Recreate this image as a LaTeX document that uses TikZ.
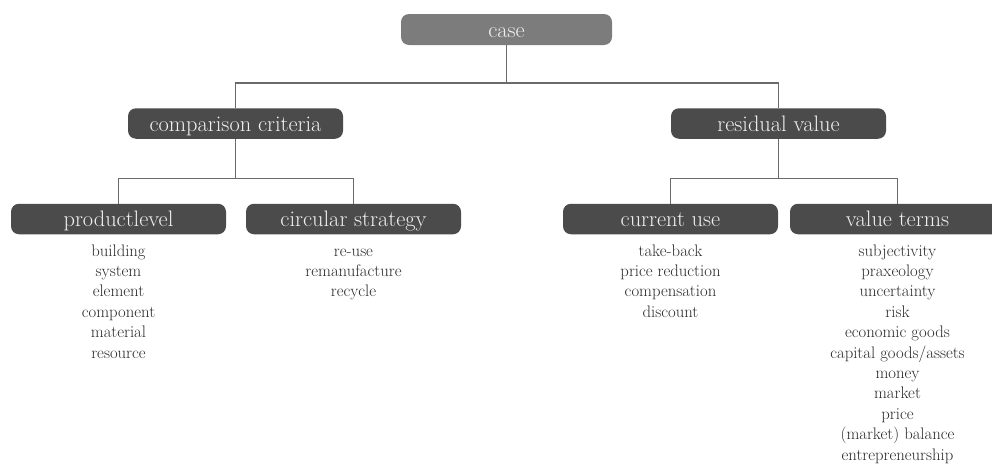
\documentclass[tikz,border=0pt]{standalone}
\usepackage{xcolor}
\definecolor{boxdark}{HTML}{4B4B4B}
\definecolor{boxlight}{HTML}{7C7C7C}
\definecolor{boxtext}{HTML}{F0F0F0}
\definecolor{listtext}{HTML}{2A2A2A}
\definecolor{linegray}{HTML}{6A6A6A}
\begin{document}
\begin{tikzpicture}[x=1pt,y=-1pt,
  headbox/.style={draw=none, fill=boxdark, rounded corners=8pt,
    minimum width=215pt, minimum height=30.5pt, inner sep=0pt,
    text=boxtext, font=\fontsize{22.4}{26}\selectfont,
    text height=17pt, text depth=1.6pt},
  topbox/.style={headbox, fill=boxlight, minimum width=211pt, minimum height=31pt},
  itemlist/.style={anchor=north, inner sep=0pt, align=center, text=listtext,
    font=\fontsize{16.7}{20.4}\selectfont},
  conn/.style={draw=linegray, line width=1.1pt}]
\clip (0,0) rectangle (992,463);

% top level
\node[topbox] (case) at (506.5,29.5) {case};

% second level
\node[headbox] (cc) at (235.5,123.5) {comparison criteria};
\node[headbox] (rv) at (778.5,123.5) {residual value};

% third level
\node[headbox] (pl) at (118.5,219) {productlevel};
\node[headbox] (cs) at (353.5,219) {circular strategy};
\node[headbox] (cu) at (670.5,219) {current use};
\node[headbox] (vt) at (897.5,219) {value terms};

% junction points of the tree
\coordinate (jtop) at (506.5,83);
\coordinate (jcc) at (235.5,178.5);
\coordinate (jrv) at (778.5,178.5);

% connectors
\draw[conn] (case.south) -- (jtop);
\draw[conn] (cc.north) |- (jtop) -| (rv.north);
\draw[conn] (cc.south) -- (jcc);
\draw[conn] (pl.north) |- (jcc) -| (cs.north);
\draw[conn] (rv.south) -- (jrv);
\draw[conn] (cu.north) |- (jrv) -| (vt.north);

% item lists below the third level
\node[itemlist] (plitems) at (118.5,241.7) {\strut building\\system\\element\\component\\material\\resource};
\node[itemlist] (csitems) at (353.5,241.7) {\strut re-use\\remanufacture\\recycle};
\node[itemlist] (cuitems) at (670.5,241.7) {\strut take-back\\price reduction\\compensation\\discount};
\node[itemlist] (vtitems) at (897.5,241.7) {\strut subjectivity\\praxeology\\uncertainty\\risk\\economic goods\\capital goods/assets\\money\\market\\price\\(market) balance\\entrepreneurship};
\end{tikzpicture}
\end{document}
